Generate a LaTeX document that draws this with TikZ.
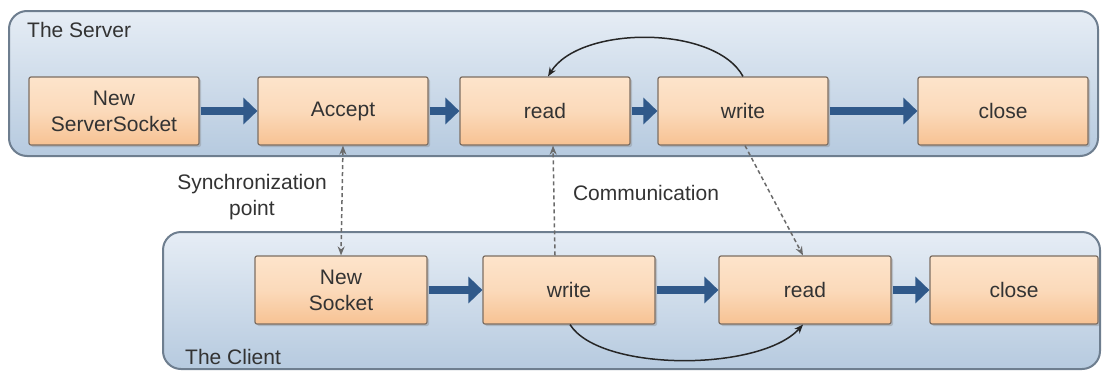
\documentclass[tikz,border=0pt]{standalone}
\usepackage{fontspec}
\setmainfont{Liberation Sans}
\usetikzlibrary{arrows.meta,shadows}
\definecolor{txt}{HTML}{333333}
\definecolor{flowblue}{HTML}{30598A}
\definecolor{panelline}{HTML}{6E7E8F}
\definecolor{paneltop}{HTML}{E6EDF5}
\definecolor{panelbot}{HTML}{B6CADF}
\definecolor{boxtop}{HTML}{FDE4CB}
\definecolor{boxbot}{HTML}{F7C293}
\definecolor{boxline}{HTML}{7D6E62}
\definecolor{dashgray}{HTML}{6A6A6A}
\tikzset{
  panel/.style={draw=panelline, line width=2pt, rounded corners=18pt,
    top color=paneltop, bottom color=panelbot},
  stepbox/.style={draw=boxline, line width=1.2pt, rounded corners=2pt,
    top color=boxtop, bottom color=boxbot, middle color=boxtop!70!boxbot,
    minimum width=170pt, minimum height=68pt, inner sep=0pt,
    align=center, text=txt, font=\fontsize{21}{26}\selectfont,
    drop shadow={shadow xshift=2pt, shadow yshift=-2pt, opacity=0.35}},
  flow/.style={draw=flowblue, line width=8pt,
    -{Triangle[length=14pt,width=26pt]}, shorten <=1pt},
  loop/.style={draw=black!85, line width=1.5pt,
    -{Stealth[length=9pt,width=7pt]}},
  msg/.style={draw=dashgray, line width=1.5pt, dash pattern=on 4pt off 3pt,
    -{Stealth[length=9pt,width=7pt]}},
  caption/.style={text=txt, font=\fontsize{21}{26}\selectfont, inner sep=0pt},
}
\begin{document}
\begin{tikzpicture}[x=1pt,y=-1pt]
  \useasboundingbox (0,0) rectangle (1102,370);

  % the two process panels
  \path[panel] (9,11) rectangle (1098,156);
  \path[panel] (163,232) rectangle (1100,369);
  \node[caption, anchor=west] (srvlabel) at (27,30) {The Server};
  \node[caption, anchor=west] (clilabel) at (185,357) {The Client};

  % server steps
  \node[stepbox] (ssock)  at (114,111) {New\\ServerSocket};
  \node[stepbox] (acc)    at (343,111) {Accept};
  \node[stepbox] (sread)  at (545,111) {read};
  \node[stepbox] (swrite) at (743,111) {write};
  \node[stepbox] (sclose) at (1003,111) {close};

  % client steps
  \node[stepbox, minimum width=172pt] (csock)  at (341,290) {New\\Socket};
  \node[stepbox, minimum width=172pt] (cwrite) at (569,290) {write};
  \node[stepbox, minimum width=172pt] (cread)  at (805,290) {read};
  \node[stepbox, minimum width=168pt] (cclose) at (1014,290) {close};

  % sequence arrows
  \draw[flow] (ssock) -- (acc);
  \draw[flow] (acc) -- (sread);
  \draw[flow] (sread) -- (swrite);
  \draw[flow] (swrite) -- (sclose);
  \draw[flow] (csock) -- (cwrite);
  \draw[flow] (cwrite) -- (cread);
  \draw[flow] (cread) -- (cclose);

  % repeat loops
  \draw[loop] (swrite.north) .. controls (715,25) and (580,25) .. ([xshift=3pt]sread.north);
  \draw[loop] ([xshift=1pt]cwrite.south) .. controls (600,372) and (760,372) .. ([xshift=-2pt]cread.south);

  % synchronization and communication
  \draw[msg, {Stealth[length=9pt,width=7pt]}-{Stealth[length=9pt,width=7pt]}] (acc.south) -- (csock.north);
  \draw[msg] ([xshift=-14pt]cwrite.north) -- ([xshift=8pt]sread.south);
  \draw[msg] ([xshift=2pt]swrite.south) -- ([xshift=-2pt]cread.north);

  \node[caption, align=center] (synclabel) at (252,197) {Synchronization\\point};
  \node[caption] (commlabel) at (646,193) {Communication};
\end{tikzpicture}
\end{document}
